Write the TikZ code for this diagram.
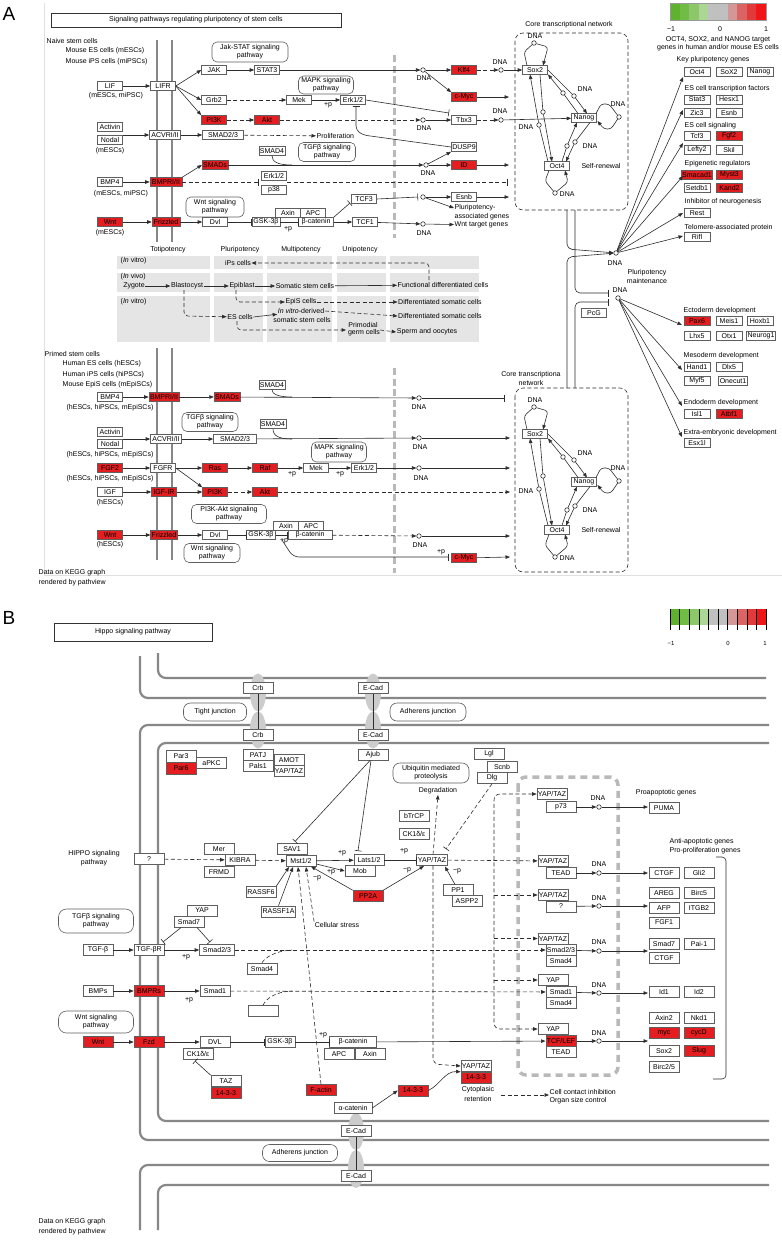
\documentclass[tikz,border=0pt]{standalone}
\usepackage{fontspec}
\setmainfont{Liberation Sans}
\usetikzlibrary{arrows.meta}
\newcommand{\kf}{\fontsize{7}{8}\selectfont}
\definecolor{kred}{RGB}{228,30,32}
\definecolor{boxc}{RGB}{95,95,95}
\definecolor{linec}{RGB}{45,45,45}
\definecolor{membc}{RGB}{135,135,135}
\definecolor{bandc}{RGB}{229,229,229}
\definecolor{nucc}{RGB}{185,185,185}
\definecolor{junc}{RGB}{204,204,204}
\definecolor{lg1}{RGB}{95,178,45}
\definecolor{lg2}{RGB}{112,188,68}
\definecolor{lg3}{RGB}{140,200,105}
\definecolor{lg4}{RGB}{172,214,150}
\definecolor{lg5}{RGB}{192,192,192}
\definecolor{lg6}{RGB}{192,192,192}
\definecolor{lg7}{RGB}{212,150,150}
\definecolor{lg8}{RGB}{218,100,100}
\definecolor{lg9}{RGB}{226,58,58}
\definecolor{lg10}{RGB}{238,22,22}
\newcommand{\corenet}[2]{%
\begin{scope}[shift={(0,#1)}]
\node[g] (Sox2#2) at (535,70) {Sox2};
\node[g] (Nanog#2) at (584,118) {Nanog};
\node[g] (Oct4#2) at (557,166) {Oct4};
\node[dna] (lS#2) at (534,43) {};
\node[dna] (lN#2) at (619,117) {};
\node[dna] (lO#2) at (555,193) {};
\node[dna] (cA#2) at (563,93) {};
\node[dna] (cB#2) at (574,96) {};
\node[dna] (cC#2) at (543,112) {};
\node[dna] (cD#2) at (539,125) {};
\node[dna] (cE#2) at (567,146) {};
\node[dna] (cF#2) at (575,142) {};
\node[t] (tS#2) at (535,36) {DNA};
\node[t] (tN#2) at (618,104) {DNA};
\node[t, anchor=west] (tO#2) at (559,194) {DNA};
\node[t] (tAB#2) at (585,89) {DNA};
\node[t] (tCD#2) at (526,127) {DNA};
\node[t] (tEF#2) at (590,146) {DNA};
\node[t] (sr#2) at (601,166) {Self-renewal};
\draw[ln, rounded corners=3] (527,65.5) -- (524,52) -- (lS#2);
\draw[ar, rounded corners=3] (lS#2) -- (548,47) -- (543,65.5);
\draw[ln, rounded corners=3] (596,113.5) -- (601,104) -- (609,104) -- (lN#2);
\draw[ar, rounded corners=3] (lN#2) -- (611,129) -- (604,129) -- (597.5,121);
\draw[ln, rounded corners=3] (549,170.5) -- (545,181) -- (lO#2);
\draw[ar, rounded corners=3] (lO#2) -- (568,182) -- (565,170.5);
\draw[ln] (578,113.5) -- (cA#2); \draw[ar] (cA#2) -- (548,74.5);
\draw[ln] (548,70) -- (cB#2); \draw[ar] (cB#2) -- (587,113.5);
\draw[ln] (540,74.5) -- (cC#2); \draw[ar] (cC#2) -- (552,161.5);
\draw[ln] (548,161.5) -- (cD#2); \draw[ar] (cD#2) -- (530,74.5);
\draw[ln] (562,161.5) -- (cE#2); \draw[ar] (cE#2) -- (577,122.5);
\draw[ln] (590,122.5) -- (cF#2); \draw[ar] (cF#2) -- (566,161.5);
\end{scope}}
\begin{document}
\begin{tikzpicture}[x=1pt,y=-1pt, font=\kf,
 g/.style={draw=boxc, fill=white, minimum width=25, minimum height=9, inner sep=1, line width=0.6},
 r/.style={g, fill=kred},
 gr/.style={g, minimum width=26},
 rr/.style={gr, fill=kred},
 gb/.style={g, minimum width=30, minimum height=11},
 rb/.style={gb, fill=kred},
 pw/.style={draw=boxc, rounded corners=5, align=center, inner sep=0, line width=0.6},
 dna/.style={circle, draw=linec, fill=white, minimum size=4.5, inner sep=0, line width=0.6},
 t/.style={inner sep=0.5, align=center},
 ln/.style={draw=linec, line width=0.6},
 ar/.style={ln, -{Triangle[length=4.5,width=3.5]}},
 inh/.style={ln, -{Bar[width=7]}},
 da/.style={dash pattern=on 4 off 2.5},
 memb/.style={draw=membc, line width=2.2, rounded corners=8},
]
\fill[white] (0,0) rectangle (782,1240);
\useasboundingbox (0,0) rectangle (782,1240);

%%%%%%%%%%%%%%%%%%%% PANEL A %%%%%%%%%%%%%%%%%%%%
\node[t, font=\fontsize{19}{19}\selectfont] (labA) at (9,14) {A};
\draw[black!12, line width=0.7] (44,3) -- (44,575) -- (782,575);
\node[draw=black!80, line width=0.9, minimum width=290, minimum height=14] (titA) at (196,20) {Signaling pathways regulating pluripotency of stem cells};

% membranes and nuclear border
\foreach \xx in {157,172} {
 \draw[draw=membc, line width=2] (\xx,40) -- (\xx,242);
 \draw[draw=membc, line width=2] (\xx,348) -- (\xx,560);}
\draw[nucc, line width=3, dash pattern=on 7 off 3.5] (394,55) -- (394,238);
\draw[nucc, line width=3, dash pattern=on 7 off 3.5] (394,368) -- (394,573);

% legend A
\foreach \i in {1,...,10} \fill[lg\i] ({670+(\i-1)*9.6},3) rectangle ({670+\i*9.6},20);
\draw[black!40, line width=0.4] (670,3) rectangle (766,20);
\node[t] (lgA1) at (671,29) {−1};
\node[t] (lgA2) at (720,29) {0};
\node[t] (lgA3) at (766,29) {1};
\node[t] (lgA4) at (718,40) {OCT4, SOX2, and NANOG target};
\node[t] (lgA5) at (718,48) {genes in human and/or mouse ES cells};

% naive stem cells
\node[t, anchor=west] (naive) at (46,41) {Naive stem cells};
\node[t, anchor=west] (mes) at (65,51) {Mouse ES cells (mESCs)};
\node[t, anchor=west] (mips) at (65,62) {Mouse iPS cells (miPSCs)};

\node[g] (LIF) at (110,86) {LIF};
\node[t] (LIFc) at (116,96) {(mESCs, miPSC)};
\node[g] (LIFR) at (163,86) {LIFR};
\node[g] (JAK) at (214,70) {JAK};
\node[g] (STAT3) at (267,70) {STAT3};
\node[pw, minimum width=76, minimum height=20] (pJS) at (250,52) {Jak-STAT signaling\\pathway};
\node[g] (Grb2) at (214,100) {Grb2};
\node[g] (Mek) at (299,100) {Mek};
\node[g] (Erk) at (353,100) {Erk1/2};
\node[t] (pErk) at (328,105) {+p};
\node[pw, minimum width=55, minimum height=18] (pMAPK) at (326,85) {MAPK signaling\\pathway};
\node[r] (PI3K) at (214,120) {PI3K};
\node[r] (Akt) at (267,120) {Akt};
\node[g] (Activin) at (110,127) {Activin};
\node[g] (Nodal) at (110,140) {Nodal};
\node[t] (mESCa) at (110,151) {(mESCs)};
\coordinate (an) at (123,135);
\node[g, minimum width=31] (ACVR) at (165,135) {ACVRI/II};
\node[g, minimum width=41] (SMAD23) at (223,135) {SMAD2/3};
\node[t, anchor=west] (Prolif) at (316,136) {Proliferation};
\node[g] (SMAD4a) at (272,151) {SMAD4};
\node[pw, minimum width=57, minimum height=19] (pTGF) at (327,152) {TGFβ signaling\\pathway};
\node[r] (SMADs) at (215,165) {SMADs};
\node[g] (BMP4) at (110,182) {BMP4};
\node[t] (BMP4c) at (121,194) {(mESCs, miPSC)};
\node[r, minimum width=32] (BMPR) at (166,182) {BMPRI/II};
\node[g] (Erkb) at (274,176) {Erk1/2};
\node[g] (p38) at (274,190) {p38};
\node[pw, minimum width=58, minimum height=20] (pWnt) at (215,207) {Wnt signaling\\pathway};
\node[g] (TCF3) at (364,199) {TCF3};
\node[r] (Wnt) at (110,222) {Wnt};
\node[t] (Wntc) at (110,233) {(mESCs)};
\node[r, minimum width=28] (Fz) at (166,222) {Frizzled};
\node[g] (Dvl) at (215,222) {Dvl};
\node[g, minimum width=28] (GSK) at (266,222) {GSK-3β};
\node[g] (Axin) at (288,213) {Axin};
\node[g] (APC) at (313,213) {APC};
\node[g, minimum width=35] (bcat) at (316,222) {β-catenin};
\node[t] (pbcat) at (288,229) {+p};
\node[g] (TCF1) at (365,222) {TCF1};

\node[dna] (d1) at (423,70) {}; \node[t] (d1l) at (424,78) {DNA};
\node[r] (Klf4) at (464,70) {Klf4};
\node[r] (cMyc) at (464,97) {c-Myc};
\node[dna] (d2) at (501,70) {}; \node[t] (d2l) at (500,62) {DNA};
\node[dna] (d3) at (423,120) {}; \node[t] (d3l) at (424,128) {DNA};
\node[g] (Tbx3) at (464,120) {Tbx3};
\node[dna] (d4) at (501,120) {}; \node[t] (d4l) at (500,111) {DNA};
\node[g] (DUSP9) at (464,147) {DUSP9};
\node[dna] (d5) at (426,165) {}; \node[t] (d5l) at (428,173) {DNA};
\node[r] (ID) at (464,165) {ID};
\node[dna] (d6) at (423,197) {};
\node[g] (Esnb) at (464,197) {Esnb};
\node[t, anchor=west] (plt1) at (454,208) {Pluripotency-};
\node[t, anchor=west] (plt2) at (454,217) {associated genes};
\node[dna] (d7) at (423,224) {}; \node[t] (d7l) at (424,233) {DNA};
\node[t, anchor=west] (wtg) at (454,225) {Wnt target genes};
\coordinate (e1) at (509,97);
\coordinate (e2) at (509,165);
\coordinate (e3) at (509,197);

% core network upper
\node[t] (cnl) at (569,25) {Core transcriptional network};
\draw[linec, line width=0.6, dash pattern=on 4 off 2.5, rounded corners=8] (515,33) rectangle (628,210);
\corenet{0}{u}

% edges upper
\draw[ar] (LIF) -- (LIFR);
\draw[ar] (LIFR.east) -- (JAK.west);
\draw[ar] (LIFR.east) -- (Grb2.west);
\draw[ar] (LIFR.east) -- (PI3K.north west);
\draw[ar] (JAK) -- (STAT3);
\draw[ar] (STAT3) -- (d1);
\draw[ar] (d1) -- (Klf4);
\draw[ar] (d1) -- (cMyc.north west);
\draw[ar, da] (Klf4) -- (d2);
\draw[ar] (d2) -- (Sox2u);
\draw[ar] (cMyc) -- (e1);
\draw[ar, da] (Grb2) -- (Mek);
\draw[ar] (Mek) -- (Erk);
\draw[inh] (Erk.east) -- (449,113);
\draw[inh, rounded corners=4] (DUSP9.west) -- (363,135) -- (356,130) -- (356,106);
\draw[ar, da] (PI3K) -- (Akt);
\draw[ar, da] (Akt) -- (d3);
\draw[ar] (d3) -- (Tbx3);
\draw[ar, da] (Tbx3) -- (d4);
\draw[ar] (d4) -- (Nanogu);
\draw[ar] (an) -- (ACVR);
\draw[ar] (ACVR) -- (SMAD23);
\draw[ar, da] (SMAD23) -- (Prolif);
\draw[ar] (BMP4) -- (BMPR);
\draw[ar] (BMPR.north east) -- (SMADs.west);
\draw[inh, da] (BMPR.east) -- (259,182);
\draw[inh, da] (287,182) -- (508,182);
\draw[ar] (SMADs) -- (d5);
\draw[ln] (SMAD4a.south) .. controls (272,162) and (278,165) .. (292,165);
\draw[ar] (d5) -- (DUSP9.south west);
\draw[ar] (d5) -- (ID);
\draw[ar] (ID) -- (e2);
\draw[inh] (bcat.north east) -- (350,203);
\draw[inh] (TCF3.east) -- (418,197);
\draw[ar] (d6) -- (Esnb);
\draw[ar] (d6) -- (plt1.west);
\draw[ar] (Esnb) -- (e3);
\draw[ar] (Wnt) -- (Fz);
\draw[ar] (Fz) -- (Dvl);
\draw[inh] (Dvl) -- (GSK);
\draw[inh] (GSK) -- (bcat);
\draw[ar] (bcat) -- (TCF1);
\draw[ar] (TCF1) -- (d7);
\draw[ar] (d7) -- (wtg);

% right gene lists
\node[t, anchor=west] (hK) at (676,60) {Key pluripotency genes};
\node[gr] (gOct4) at (697,72) {Oct4};
\node[gr] (gSox2) at (729,72) {SoX2};
\node[gr] (gNanog) at (760,72) {Nanog};
\node[t, anchor=west] (hE) at (684,89) {ES cell transcription factors};
\node[gr] (gStat3) at (697,99.5) {Stat3};
\node[gr] (gHesx1) at (729,99.5) {Hesx1};
\node[gr] (gZic3) at (697,113) {Zic3};
\node[gr] (gEsnb) at (729,113) {Esnb};
\node[t, anchor=west] (hS) at (684,126) {ES cell signaling};
\node[gr] (gTcf3) at (697,136) {Tcf3};
\node[rr] (gFgf2) at (729,136) {Fgf2};
\node[gr] (gLefty2) at (697,150) {Lefty2};
\node[gr] (gSkil) at (729,150) {Skil};
\node[t, anchor=west] (hG) at (684,164) {Epigenetic regulators};
\node[rr] (gSmacad1) at (697,174.5) {Smacad1};
\node[rr] (gMyst3) at (729.5,174.5) {Myst3};
\node[gr] (gSetdb1) at (697,188) {Setdb1};
\node[rr] (gKand2) at (729.5,188) {Kand2};
\node[t, anchor=west] (hI) at (684,202) {Inhibitor of neurogenesis};
\node[gr] (gRest) at (697,213) {Rest};
\node[t, anchor=west] (hT) at (684,228) {Telomere-associated protein};
\node[gr] (gRifl) at (697,237) {Rifl};
\node[dna] (dU) at (616,253) {}; \node[t] (dUl) at (615,263) {DNA};
\node[t] (pm1) at (647,273) {Pluripotency};
\node[t] (pm2) at (647,281) {maintenance};
\node[dna] (dL) at (618,298) {}; \node[t] (dLl) at (620,290) {DNA};
\node[g] (PcG) at (594,313) {PcG};
\foreach \yy in {77,110,143,176,213,236} \draw[ar] (dU) -- (683,\yy);
\node[t, anchor=west] (hEc) at (683,311) {Ectoderm development};
\node[rr] (gPax6) at (697,321) {Pax6};
\node[gr] (gMeis1) at (729,321) {Meis1};
\node[gr] (gHoxb1) at (760,321) {Hoxb1};
\node[gr] (gLhx5) at (697,336) {Lhx5};
\node[gr] (gOtx1) at (729,336) {Otx1};
\node[gr] (gNeurog1) at (761,336) {Neurog1};
\node[t, anchor=west] (hMe) at (683,356) {Mesoderm development};
\node[gr] (gHand1) at (697,367) {Hand1};
\node[gr] (gDlx5) at (729,367) {Dlx5};
\node[gr] (gMyf5) at (697,381) {Myf5};
\node[gr] (gOnecut1) at (733,381) {Onecut1};
\node[t, anchor=west] (hEn) at (683,403) {Endoderm development};
\node[gr] (gIsl1) at (697,414) {Isl1};
\node[rr] (gAtbf1) at (729,414) {Atbf1};
\node[t, anchor=west] (hX) at (683,433) {Extra-embryonic development};
\node[gr] (gEsx1l) at (697,443) {Esx1l};
\foreach \yy in {325,370,406,437} \draw[ar] (dL) -- (682,\yy);

% links from core networks
\draw[ar, rounded corners=5] (567,210) -- (567,249) -- (dU);
\draw[inh, rounded corners=5] (575,210) -- (575,293) -- (609,293);
\draw[ar, rounded corners=5] (567,388) -- (567,257) -- (dU);
\draw[inh, rounded corners=5] (575,388) -- (575,302) -- (609,302);

% totipotency section
\foreach \ya/\yb in {256/269,273/292,296/342}
 \foreach \xa/\xb in {117/210,214/263,267/332,337/386,390/479}
  \fill[bandc] (\xa,\ya) rectangle (\xb,\yb);
\node[t] (cT) at (168,250) {Totipotency};
\node[t] (cP) at (240,250) {Pluripotency};
\node[t] (cM) at (301,250) {Multipotency};
\node[t] (cU) at (360,250) {Unipotency};
\node[t, anchor=west] (iv1) at (120,261) {(\textit{In} vitro)};
\node[t] (iPs) at (238,263) {iPs cells};
\node[t, anchor=west] (iv2) at (120,277) {(\textit{In} vivo)};
\node[t] (zyg) at (134,286) {Zygote};
\node[t] (bla) at (187,286) {Blastocyst};
\node[t] (epi) at (242,286) {Epiblast};
\node[t] (ssc) at (305,286) {Somatic stem cells};
\node[t] (fdc) at (443,285) {Functional differentiated cells};
\node[t, anchor=west] (iv3) at (120,302) {(\textit{In} vitro)};
\node[t] (epis) at (301,302) {EpiS cells};
\node[t] (dsc1) at (440,302) {Differentiated somatic cells};
\node[t] (esc) at (240,317) {ES cells};
\node[t] (ivd) at (301,311) {\textit{In vitro}-derived};
\node[t] (ssc2) at (302,320) {somatic stem cells};
\node[t] (dsc2) at (440,316) {Differentiated somatic cells};
\node[t] (pgc1) at (363,325) {Primodial};
\node[t] (pgc2) at (364,333) {germ cells};
\node[t] (sao) at (427,332) {Sperm and oocytes};
\coordinate (pgcin) at (346,330);
\draw[ar] (zyg) -- (bla);
\draw[ar] (bla) -- (epi);
\draw[ar] (epi) -- (ssc);
\draw[ar] (ssc) -- (fdc);
\draw[ar, da, rounded corners=4] (429,280) -- (429,263) -- (iPs);
\draw[ar, da, rounded corners=4] (184,290) -- (184,316) -- (esc);
\draw[ar, da, rounded corners=4] (236,290) -- (236,302) -- (epis);
\draw[ar, da] (epis) -- (dsc1);
\draw[ar] (esc.east) -- (ivd.south west);
\draw[ar, da] (ivd.east) -- (dsc2.west);
\draw[ar, da, rounded corners=4] (237,321) -- (237,330) -- (pgcin);
\draw[ar, da] (380,330) -- (sao.west);

% primed stem cells
\node[t, anchor=west] (primed) at (44,354) {Primed stem cells};
\node[t, anchor=west] (hes) at (62,364) {Human ES cells (hESCs)};
\node[t, anchor=west] (hips) at (62,375) {Human iPS cells (hiPSCs)};
\node[t, anchor=west] (meps) at (62,385) {Mouse EpiS cells (mEpiSCs)};

\node[g] (BMP4b) at (110,397) {BMP4};
\node[t] (BMP4bc) at (110,408) {(hESCs, hiPSCs, mEpiSCs)};
\node[r] (BMPRb) at (164,397) {BMPRI/II};
\node[r] (SMADsb) at (227,397) {SMADs};
\node[g] (SMAD4b) at (272,385) {SMAD4};
\node[dna] (db1) at (419,398) {}; \node[t] (db1l) at (419,407) {DNA};
\node[pw, minimum width=56, minimum height=19] (pTGFb) at (210,422) {TGFβ signaling\\pathway};
\node[g] (SMAD4c) at (273,424) {SMAD4};
\node[g] (Activinb) at (110,432) {Activin};
\node[g] (Nodalb) at (110,444) {Nodal};
\node[t] (Nodalbc) at (110,455) {(hESCs, hiPSCs, mEpiSCs)};
\coordinate (anb) at (123,439);
\node[g, minimum width=31] (ACVRb) at (166,439) {ACVRI/II};
\node[g, minimum width=43] (SMAD23b) at (235,439) {SMAD2/3};
\node[dna] (db2) at (419,438) {}; \node[t] (db2l) at (420,447) {DNA};
\node[pw, minimum width=55, minimum height=20] (pMAPKb) at (339,452) {MAPK signaling\\pathway};
\node[r] (FGF2) at (110,468) {FGF2};
\node[t] (FGF2c) at (110,479) {(hESCs, hiPSCs, mEpiSCs)};
\node[g] (FGFR) at (163,468) {FGFR};
\node[r] (Ras) at (215,468) {Ras};
\node[r] (Raf) at (265,468) {Raf};
\node[g] (Mekb) at (316,468) {Mek};
\node[g] (Erkc) at (364,468) {Erk1/2};
\node[t] (pRaf) at (292,474) {+p};
\node[t] (pMek) at (340,474) {+p};
\node[dna] (db3) at (419,468) {}; \node[t] (db3l) at (421,478) {DNA};
\node[g] (IGF) at (110,492) {IGF};
\node[t] (IGFc) at (110,503) {(hESCs)};
\node[r] (IGFIR) at (164,492) {IGF-IR};
\node[r] (PI3Kb) at (215,492) {PI3K};
\node[r] (Aktb) at (265,492) {Akt};
\node[pw, minimum width=75, minimum height=19] (pPI3K) at (229,514) {PI3K-Akt signaling\\pathway};
\node[r] (Wntb) at (110,535) {Wnt};
\node[t] (Wntbc) at (110,545) {(hESCs)};
\node[r] (Fzb) at (164,535) {Frizzled};
\node[g] (Dvlb) at (215,535) {Dvl};
\node[g, minimum width=29] (GSKb) at (261,535) {GSK-3β};
\node[g] (Axinb) at (286,526) {Axin};
\node[g] (APCb) at (311,526) {APC};
\node[g, minimum width=44] (bcatb) at (310,535) {β-catenin};
\node[t] (pbcatb) at (284,541) {+p};
\node[pw, minimum width=56, minimum height=19] (pWntb) at (212,553) {Wnt signaling\\pathway};
\node[dna] (db4) at (419,536) {}; \node[t] (db4l) at (420,545) {DNA};
\node[t] (pmyc) at (441,552) {+p};
\node[r] (cMycb) at (464,558) {c-Myc};
\coordinate (f1) at (510,438);
\coordinate (f2) at (510,468);
\coordinate (f3) at (510,492);
\coordinate (f4) at (510,536);
\coordinate (f5) at (510,557);

\draw[ar] (BMP4b) -- (BMPRb);
\draw[ar] (BMPRb) -- (SMADsb);
\draw[ar] (SMADsb) -- (db1);
\draw[inh] (db1) -- (505,398);
\draw[ln] (SMAD4b.south) .. controls (272,394) and (278,397) .. (292,397);
\draw[ar] (anb) -- (ACVRb);
\draw[ar] (ACVRb) -- (SMAD23b);
\draw[ar] (SMAD23b) -- (db2);
\draw[ln] (SMAD4c.south) .. controls (273,436) and (279,439) .. (292,439);
\draw[ar] (db2) -- (f1);
\draw[ar] (FGF2) -- (FGFR);
\draw[ar] (FGFR) -- (Ras);
\draw[ar] (FGFR.east) -- (PI3Kb.north west);
\draw[ar] (Ras) -- (Raf);
\draw[ar] (Raf) -- (Mekb);
\draw[ar] (Mekb) -- (Erkc);
\draw[ar] (Erkc) -- (db3);
\draw[ar] (db3) -- (f2);
\draw[ar] (IGF) -- (IGFIR);
\draw[ar] (IGFIR) -- (PI3Kb);
\draw[ar, da] (PI3Kb) -- (Aktb);
\draw[ar, da] (Aktb) -- (f3);
\draw[ar] (Wntb) -- (Fzb);
\draw[ar] (Fzb) -- (Dvlb);
\draw[inh] (Dvlb) -- (GSKb);
\draw[inh] (GSKb) -- (bcatb);
\draw[ar, da] (bcatb) -- (db4);
\draw[ar] (db4) -- (f4);
\draw[inh, rounded corners=6] (282,540) -- (293,557) -- (449,557);
\draw[ar] (cMycb) -- (f5);

% core network lower
\node[t] (cnl2a) at (531,375) {Core transcriptiona};
\node[t] (cnl2b) at (531,383) {network};
\draw[linec, line width=0.6, dash pattern=on 4 off 2.5, rounded corners=8] (515,388) rectangle (628,572);
\corenet{364}{l}

\node[t, anchor=west] (kgA1) at (38,573) {Data on KEGG graph};
\node[t, anchor=west] (kgA2) at (38,583) {rendered by pathview};

%%%%%%%%%%%%%%%%%%%% PANEL B %%%%%%%%%%%%%%%%%%%%
\node[t, font=\fontsize{19}{19}\selectfont] (labB) at (9,618) {B};
\node[draw=black!80, line width=0.9, minimum width=158, minimum height=18] (titB) at (133,632) {Hippo signaling pathway};
% legend B
\foreach \i in {1,...,10} \fill[lg\i] ({670+(\i-1)*9.6},609) rectangle ({670+\i*9.6},625);
\foreach \i in {0,...,10} \draw[black, line width=0.5] ({670+\i*9.6},609) -- ({670+\i*9.6},630);
\node[t, font=\fontsize{6}{7}\selectfont] (lgB1) at (671,643) {−1};
\node[t, font=\fontsize{6}{7}\selectfont] (lgB2) at (728,643) {0};
\node[t, font=\fontsize{6}{7}\selectfont] (lgB3) at (765,643) {1};

% membranes
\draw[memb] (140,656) -- (140,698) -- (766,698);
\draw[memb] (158,653) -- (158,678) -- (766,678);
\draw[memb] (769,725) -- (140,725) -- (140,1140) -- (769,1140);
\draw[memb] (769,743) -- (158,743) -- (158,1121) -- (769,1121);
\draw[memb] (769,1165) -- (140,1165) -- (140,1230);
\draw[memb] (769,1185) -- (158,1185) -- (158,1230);
% junctions
\foreach \xx in {258,373} {
 \fill[junc] (\xx,692.5) ellipse (8 and 19);
 \fill[junc] (\xx,730) ellipse (8 and 18.5);}
\fill[junc] (356,1131.5) ellipse (8 and 18.5);
\fill[junc] (356,1169) ellipse (8 and 19);
\node[gb] (Crb1) at (258,688) {Crb};
\node[gb] (Crb2) at (258,735) {Crb};
\node[gb] (ECad1) at (373,688) {E-Cad};
\node[gb] (ECad2) at (373,735) {E-Cad};
\node[gb] (ECad3) at (356,1131) {E-Cad};
\node[gb] (ECad4) at (356,1176) {E-Cad};
\draw[ln, line width=0.8] (Crb1) -- (Crb2);
\draw[ln, line width=0.8] (ECad1) -- (ECad2);
\draw[ln, line width=0.8] (ECad3) -- (ECad4);
\node[pw, fill=white, minimum width=63, minimum height=18, rounded corners=7] (pTJ) at (215,712) {Tight junction};
\node[pw, fill=white, minimum width=76, minimum height=18, rounded corners=7] (pAJ) at (428,712) {Adherens junction};
\node[pw, fill=white, minimum width=75, minimum height=17, rounded corners=7] (pAJ2) at (300,1153) {Adherens junction};

\node[gb, minimum height=12] (Par3) at (181,756) {Par3};
\node[rb, minimum height=12] (Par6) at (181,768) {Par6};
\node[gb] (aPKC) at (211.5,763) {aPKC};
\node[gb] (PATJ) at (258,755) {PATJ};
\node[gb] (Pals1) at (258,766) {Pals1};
\node[gb] (AMOT) at (289,760) {AMOT};
\node[gb] (YTa) at (289,771) {YAP/TAZ};
\node[gb] (Ajub) at (373,755) {Ajub};
\node[pw, minimum width=76, minimum height=20, rounded corners=7] (pUbq) at (431,773) {Ubiquitin mediated\\proteolysis};
\node[gb] (Lgl) at (489,754) {Lgl};
\node[gb] (Scnb) at (502,767) {Scnb};
\node[gb] (Dlg) at (492,778) {Dlg};
\node[t] (degr) at (438,791) {Degradation};
\node[gb] (bTrCP) at (414,816) {bTrCP};
\node[gb] (CK1a) at (414,834) {CK1δ/ε};
\node[gb, minimum width=31] (YT) at (432,860) {YAP/TAZ};
\node[gb] (PP1) at (458,890) {PP1};
\node[gb] (ASPP2) at (467,901) {ASPP2};
\node[gb] (q1) at (149,859) {?};
\node[t] (hip1) at (94,854) {HIPPO signaling};
\node[t] (hip2) at (94,863) {pathway};
\node[gb] (Mer) at (219,849) {Mer};
\node[gb] (KIBRA) at (240,860) {KIBRA};
\node[gb] (FRMD) at (219,872) {FRMD};
\node[gb] (SAV1) at (292,849) {SAV1};
\node[gb] (Mst) at (301,861) {Mst1/2};
\node[gb] (Lats) at (369,860) {Lats1/2};
\node[gb] (Mob) at (360,871) {Mob};
\node[gb] (RASSF6) at (261,892) {RASSF6};
\node[gb] (RASSF1A) at (278.5,911.5) {RASSF1A};
\node[rb] (PP2A) at (368,896) {PP2A};
\node[t] (cstr) at (337,925) {Cellular stress};
\node[t] (pL) at (342,853) {+p};
\node[t] (pMob) at (331,872) {+p};
\node[t] (mPP) at (317,878) {−p};
\node[t] (pYT) at (404,851) {+p};
\node[t] (mYT) at (407,870) {−p};
\node[t] (mPP1) at (457,871) {−p};
\node[pw, minimum width=75, minimum height=24, rounded corners=8] (pTGFB) at (96,921) {TGFβ signaling\\pathway};
\node[gb] (YAPs) at (202,910.5) {YAP};
\node[gb] (Smad7) at (189,922) {Smad7};
\node[gb] (TGFb) at (98,950) {TGF-β};
\node[gb] (TGFbR) at (149,950) {TGF-βR};
\node[gb, minimum width=35] (Smad23) at (217,950) {Smad2/3};
\node[t] (pTG) at (186,957) {+p};
\node[gb] (Smad4) at (262,968.5) {Smad4};
\node[gb] (BMPs) at (98,991) {BMPs};
\node[rb] (BMPRs) at (149,991) {BMPRs};
\node[gb] (Smad1) at (215,991) {Smad1};
\node[t] (pBM) at (189,1000) {+p};
\node[gb] (emp) at (263,1011) {};
\node[pw, minimum width=75, minimum height=22, rounded corners=8] (pWntB) at (96,1022) {Wnt signaling\\pathway};
\node[rb] (WntB) at (98,1042) {Wnt};
\node[rb] (Fzd) at (149,1042) {Fzd};
\node[gb] (DVL) at (215,1042) {DVL};
\node[gb] (CK1b) at (198,1054) {CK1δ/ε};
\node[gb] (GSKB) at (280,1042) {GSK-3β};
\node[gb, minimum width=47] (bcatB) at (353,1042) {β-catenin};
\node[gb] (APCB) at (339,1054) {APC};
\node[gb] (AxinB) at (370,1054) {Axin};
\node[t] (pGS) at (323,1035) {+p};
\node[gb] (TAZ) at (226,1081) {TAZ};
\node[rb] (t14a) at (226,1093) {14-3-3};
\node[rb] (Factin) at (321,1090) {F-actin};
\node[gb, minimum width=38] (acat) at (353,1108) {α-catenin};
\node[rb] (t14b) at (413,1090.5) {14-3-3};
\node[gb] (YTc) at (476,1066) {YAP/TAZ};
\node[rb] (t14c) at (476,1077.5) {14-3-3};
\node[t] (cyt1) at (478,1090) {Cytoplasic};
\node[t] (cyt2) at (478,1099) {retention};
\node[t, anchor=west] (cci) at (549,1092) {Cell contact inhibition};
\node[t, anchor=west] (osc) at (549,1101) {Organ size control};
\node[t, anchor=west] (kgB1) at (38,1222) {Data on KEGG graph};
\node[t, anchor=west] (kgB2) at (38,1232) {rendered by pathview};

% nucleus
\draw[nucc, line width=3.5, dash pattern=on 7 off 5, rounded corners=8] (518,777) rectangle (618,1075);
\node[gb] (n1) at (552,794) {YAP/TAZ};
\node[gb] (p73) at (561,807) {p73};
\node[dna] (dP) at (599,807) {}; \node[t] (dPl) at (598,798) {DNA};
\node[gb] (PUMA) at (664,808) {PUMA};
\node[t] (proap) at (666,793) {Proapoptotic genes};
\node[gb] (n2) at (553,861) {YAP/TAZ};
\node[gb] (TEAD) at (561,873) {TEAD};
\node[dna] (dT) at (599,873) {}; \node[t] (dTl) at (599,864) {DNA};
\node[gb] (CTGF1) at (664,873) {CTGF};
\node[gb] (Gli2) at (699,873) {Gli2};
\node[t, anchor=west] (anti1) at (669,842) {Anti-apoptotic genes};
\node[t, anchor=west] (anti2) at (669,851) {Pro-proliferation genes};
\node[gb] (n3) at (553,895) {YAP/TAZ};
\node[gb] (q2) at (561,906.5) {?};
\node[dna] (dQ) at (599,906) {}; \node[t] (dQl) at (599,898) {DNA};
\node[gb] (AREG) at (664,893) {AREG};
\node[gb] (Birc5) at (699,893) {Birc5};
\node[gb] (AFP) at (664,908) {AFP};
\node[gb] (ITGB2) at (699,908) {ITGB2};
\node[gb] (FGF1) at (664,922.5) {FGF1};
\node[gb] (n4) at (553,938.5) {YAP/TAZ};
\node[gb] (Smad23n) at (561,950) {Smad2/3};
\node[gb] (Smad4n) at (561,961) {Smad4};
\node[dna] (dS) at (599,951) {}; \node[t] (dSl) at (599,942) {DNA};
\node[gb] (Smad7n) at (664,943.5) {Smad7};
\node[gb] (Pai1) at (699,943.5) {Pai-1};
\node[gb] (CTGF2) at (664,958) {CTGF};
\node[gb] (n5) at (553,980) {YAP};
\node[gb] (Smad1n) at (561,992) {Smad1};
\node[gb] (Smad4m) at (561,1003) {Smad4};
\node[dna] (dS1) at (599,993) {}; \node[t] (dS1l) at (599,985) {DNA};
\node[gb] (Id1) at (664,992) {Id1};
\node[gb] (Id2) at (699,992) {Id2};
\node[gb] (n6) at (553,1029) {YAP};
\node[rb] (TCF) at (561,1041) {TCF/LEF};
\node[gb] (TEADn) at (561,1052) {TEAD};
\node[dna] (dW) at (599,1041) {}; \node[t] (dWl) at (599,1033) {DNA};
\node[gb] (Axin2) at (664,1018) {Axin2};
\node[gb] (Nkd1) at (699,1018) {Nkd1};
\node[rb] (myc) at (664,1033) {myc};
\node[rb] (cycD) at (699,1033) {cycD};
\node[gb] (Sox2B) at (664,1051) {Sox2};
\node[rb] (Slug) at (699,1051) {Slug};
\node[gb] (Birc25) at (664,1067) {Birc2/5};
\draw[ln, rounded corners=4] (716,857) -- (726,857) -- (726,1079) -- (713,1079);
\coordinate (g1) at (648,807);
\coordinate (g2) at (648,873);
\coordinate (g3) at (648,906);
\coordinate (g4) at (648,951);
\coordinate (g5) at (648,993);
\coordinate (g6) at (648,1041);

% edges B
\draw[inh] (370,760.5) -- (295,841.5);
\draw[inh] (371,760.5) -- (358,851);
\draw[ar, da] (q1) -- (KIBRA);
\draw[ar, da] (KIBRA) -- (Mst);
\draw[ar] (Mst) -- (Lats);
\draw[ar] (316.5,864) -- (Mob.west);
\draw[inh] (Lats) -- (YT);
\draw[ar] (RASSF6.north east) -- (289,867);
\draw[ar] (RASSF1A.north) -- (293,867);
\draw[ar, da] (Factin.north) -- (298,867);
\draw[ar, da] (cstr.north west) -- (306,867);
\draw[ar] (PP2A.north west) -- (311,866.5);
\draw[ar] (PP2A.north east) -- (424,866);
\draw[ar] (455,884.5) -- (445,866.5);
\draw[ar, da] (433,854.5) -- (degr.south);
\draw[inh, da] (Dlg.south) -- (446,849);
\draw[ar, da, rounded corners=6] (433,865.5) -- (433,1064) -- (YTc.west);
\draw[ar] (t14b.east) .. controls (440,1085) and (445,1071) .. (YTc.south west);
\draw[ar] (acat.east) -- (t14b.west);
\draw[ar, da] (501,1095) -- (cci.west |- 0,1095);
\draw[ar, da] (YT) -- (n2);
\draw[{Triangle[length=4.5,width=3.5]}-{Triangle[length=4.5,width=3.5]}, ln, da, rounded corners=6] (n1.west) -| (494,1000) |- (n6.west);
\draw[ar, da] (494,895) -- (n3.west);
\draw[ar, da] (494,938.5) -- (n4.west);
\draw[ar, da] (494,980) -- (n5.west);
\draw[ar] (TGFb) -- (TGFbR);
\draw[ar] (TGFbR) -- (Smad23);
\draw[inh] (181,927.5) -- (163,942);
\draw[inh] (197,927.5) -- (210,942);
\draw[ar, da] (Smad23) -- (Smad23n);
\draw[ln, da] (Smad4.north) .. controls (265,958) and (274,951) .. (292,950);
\draw[ar] (BMPs) -- (BMPRs);
\draw[ar] (BMPRs) -- (Smad1);
\draw[ar, da] (Smad1) -- (Smad1n);
\draw[ln, da] (emp.north) .. controls (266,999) and (274,992) .. (292,991);
\draw[ar] (WntB) -- (Fzd);
\draw[ar] (Fzd) -- (DVL);
\draw[inh] (DVL) -- (GSKB);
\draw[inh] (GSKB) -- (bcatB);
\draw[ar] (bcatB) -- (TCF);
\draw[inh] (TAZ.north west) -- (195,1061);
\draw[ar] (p73) -- (dP); \draw[ar] (dP) -- (g1);
\draw[ar] (TEAD) -- (dT); \draw[ar] (dT) -- (g2);
\draw[ar] (q2) -- (dQ); \draw[ar] (dQ) -- (g3);
\draw[ar] (Smad23n) -- (dS); \draw[ar] (dS) -- (g4);
\draw[ar] (Smad1n) -- (dS1); \draw[ar] (dS1) -- (g5);
\draw[ar] (TCF) -- (dW); \draw[ar] (dW) -- (g6);
\end{tikzpicture}
\end{document}
